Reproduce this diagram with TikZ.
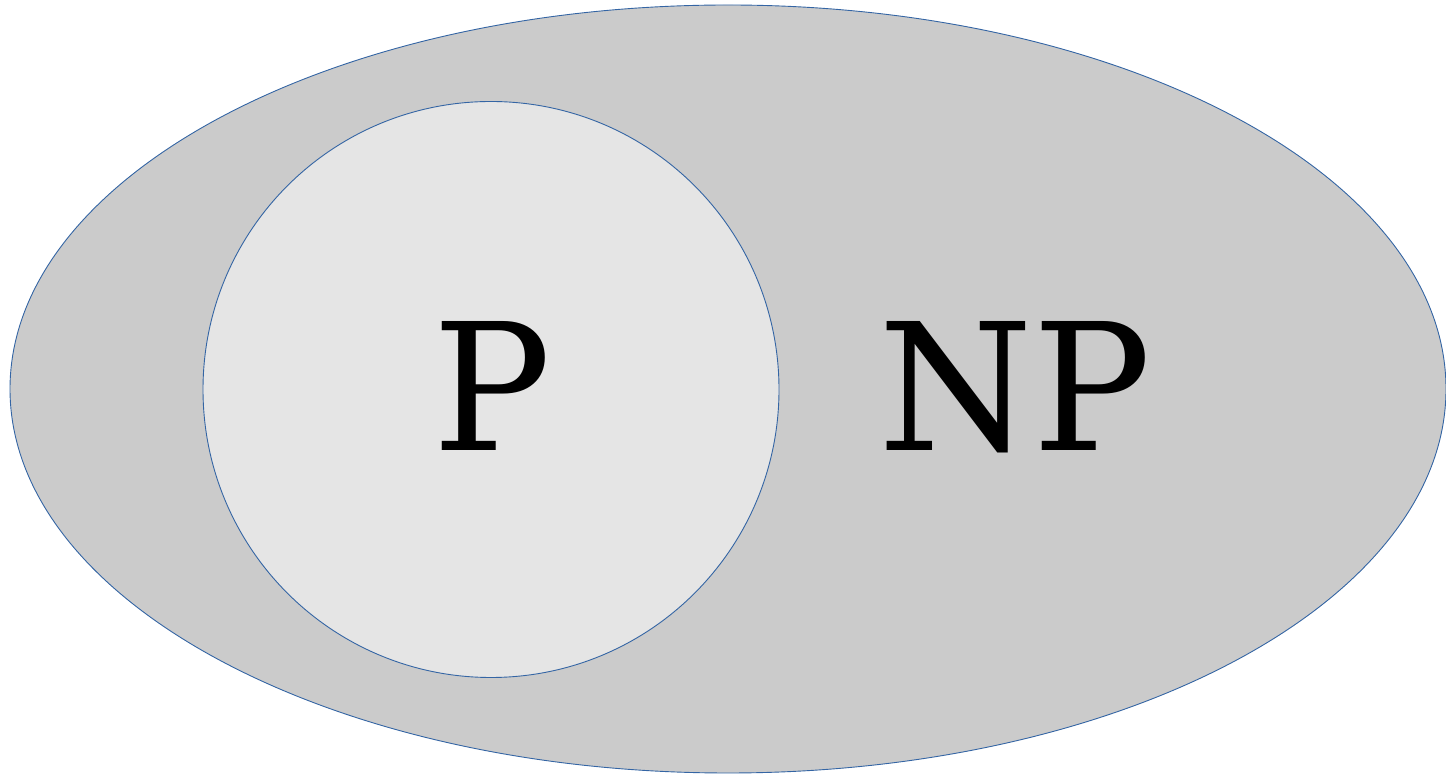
\documentclass[tikz,border=0pt]{standalone}
\usepackage{fontspec}
\newfontfamily\dvserif{DejaVu Serif}
\definecolor{outerfill}{HTML}{CBCBCB}
\definecolor{innerfill}{HTML}{E5E5E5}
\definecolor{edgeblue}{HTML}{3465A4}
\begin{document}
\begin{tikzpicture}[x=1pt,y=1pt,
  setshape/.style={draw=edgeblue,line width=0.9pt},
  biglabel/.style={anchor=base,inner sep=0pt,font=\dvserif\fontsize{177}{200}\selectfont}]
\useasboundingbox (0,0) rectangle (1446,776);
\begin{scope}
\clip (0,0) rectangle (1446,776);
\draw[setshape,fill=outerfill] (728,387) ellipse [x radius=718,y radius=384];
\end{scope}
\draw[setshape,fill=innerfill] (491,386.5) circle [radius=288];
\node[biglabel] (p) at (492,325) {P};
\node[biglabel] (np) at (1015,325) {NP};
\end{tikzpicture}
\end{document}
